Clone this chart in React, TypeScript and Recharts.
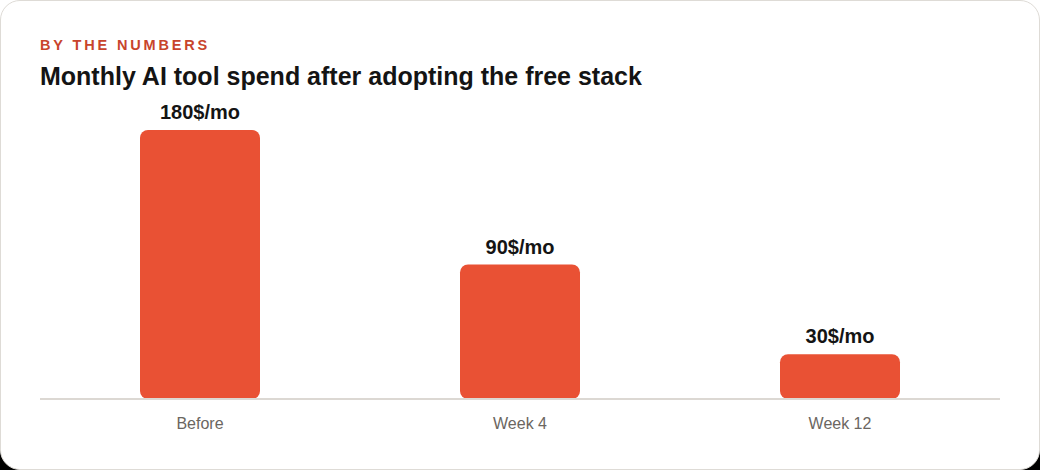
import React from "react";
import { BarChart, Bar, XAxis, YAxis, LabelList } from "recharts";

const categories = ["Before", "Week 4", "Week 12"];
const spend = [180, 90, 30];
const valueLabels = ["180$/mo", "90$/mo", "30$/mo"];

const data = categories.map((name, i) => ({ name, spend: spend[i], label: valueLabels[i] }));

const FONT = '"Liberation Sans", Arial, Helvetica, sans-serif';

export default function App() {
  return (
    <div
      style={{
        position: "fixed",
        left: 0,
        top: 0,
        width: 1040,
        height: 470,
        background: "linear-gradient(#ffffff 50%, #000000 50%)",
      }}
    >
      <div
        style={{
          position: "absolute",
          left: 0,
          top: 0,
          width: 1038,
          height: 468,
          background: "#ffffff",
          border: "1px solid #dedbd6",
          borderRadius: 20,
          fontFamily: FONT,
          overflow: "hidden",
        }}
      >
        <div
          style={{
            position: "absolute",
            left: 39,
            top: 36,
            fontSize: 14.5,
            fontWeight: 700,
            letterSpacing: 2.85,
            color: "#c8442c",
            lineHeight: "16px",
          }}
        >
          BY THE NUMBERS
        </div>
        <div
          style={{
            position: "absolute",
            left: 39,
            top: 61,
            fontSize: 25,
            fontWeight: 700,
            color: "#141414",
            lineHeight: "28px",
          }}
        >
          Monthly AI tool spend after adopting the free stack
        </div>
        <div style={{ position: "absolute", left: -1, top: 89 }}>
          <BarChart
            width={1040}
            height={360}
            data={data}
            margin={{ top: 40, right: 40, bottom: 21, left: 40 }}
            barSize={120}
          >
            <XAxis
              dataKey="name"
              axisLine={{ stroke: "#dcd8d3", strokeWidth: 2 }}
              tickLine={false}
              height={30}
              tick={{ fill: "#6b6661", fontSize: 16, fontFamily: FONT }}
              tickMargin={13}
            />
            <YAxis hide domain={[0, 180]} />
            <Bar dataKey="spend" fill="#e95134" radius={[8, 8, 8, 8]} isAnimationActive={false}>
              <LabelList
                dataKey="label"
                position="top"
                offset={11}
                style={{ fill: "#141414", fontSize: 20, fontWeight: 700, fontFamily: FONT }}
              />
            </Bar>
          </BarChart>
        </div>
      </div>
    </div>
  );
}
